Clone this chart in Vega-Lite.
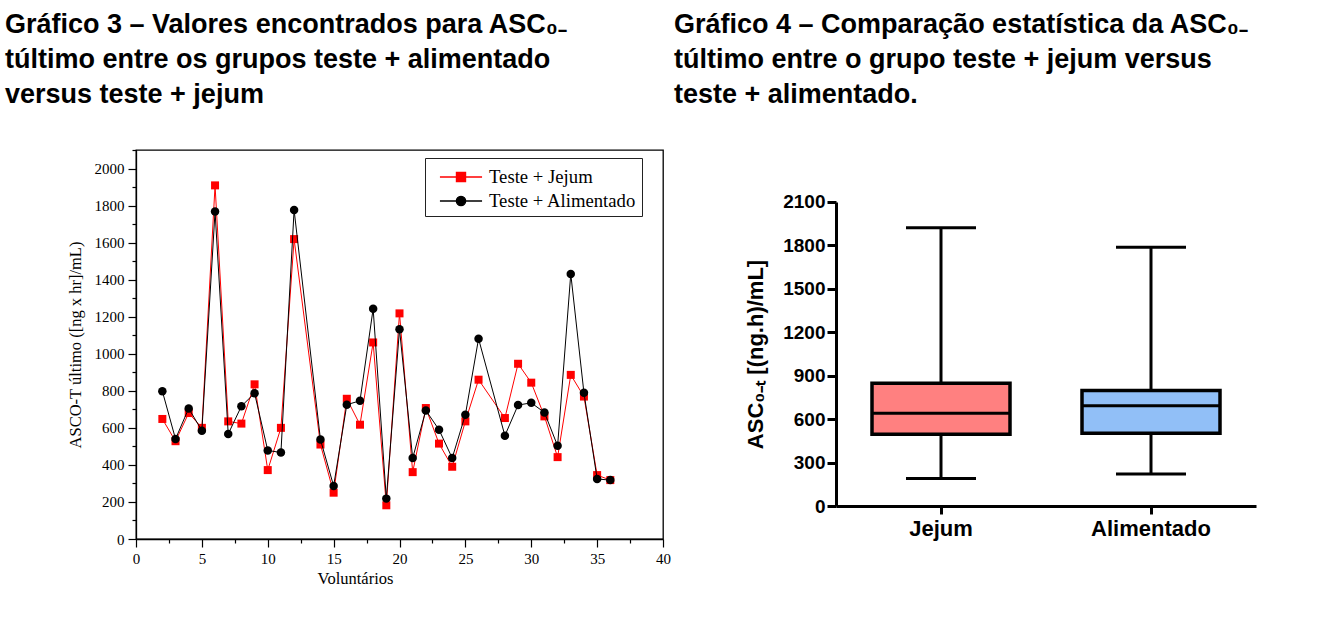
{
  "$schema": "https://vega.github.io/schema/vega-lite/v6.json",
  "background": "white",
  "padding": {"left": 4, "top": 10, "right": 5, "bottom": 5},
  "spacing": 2,
  "datasets": {
    "voluntarios": [
      {"voluntario": 2, "serie": "Teste + Jejum", "asc": 648},
      {"voluntario": 3, "serie": "Teste + Jejum", "asc": 528},
      {"voluntario": 4, "serie": "Teste + Jejum", "asc": 680},
      {"voluntario": 5, "serie": "Teste + Jejum", "asc": 600},
      {"voluntario": 6, "serie": "Teste + Jejum", "asc": 1909},
      {"voluntario": 7, "serie": "Teste + Jejum", "asc": 635},
      {"voluntario": 8, "serie": "Teste + Jejum", "asc": 623},
      {"voluntario": 9, "serie": "Teste + Jejum", "asc": 835},
      {"voluntario": 10, "serie": "Teste + Jejum", "asc": 372},
      {"voluntario": 11, "serie": "Teste + Jejum", "asc": 600},
      {"voluntario": 12, "serie": "Teste + Jejum", "asc": 1619},
      {"voluntario": 14, "serie": "Teste + Jejum", "asc": 510},
      {"voluntario": 15, "serie": "Teste + Jejum", "asc": 250},
      {"voluntario": 16, "serie": "Teste + Jejum", "asc": 757},
      {"voluntario": 17, "serie": "Teste + Jejum", "asc": 617},
      {"voluntario": 18, "serie": "Teste + Jejum", "asc": 1061},
      {"voluntario": 19, "serie": "Teste + Jejum", "asc": 182},
      {"voluntario": 20, "serie": "Teste + Jejum", "asc": 1218},
      {"voluntario": 21, "serie": "Teste + Jejum", "asc": 361},
      {"voluntario": 22, "serie": "Teste + Jejum", "asc": 707},
      {"voluntario": 23, "serie": "Teste + Jejum", "asc": 515},
      {"voluntario": 24, "serie": "Teste + Jejum", "asc": 390},
      {"voluntario": 25, "serie": "Teste + Jejum", "asc": 635},
      {"voluntario": 26, "serie": "Teste + Jejum", "asc": 860},
      {"voluntario": 28, "serie": "Teste + Jejum", "asc": 653},
      {"voluntario": 29, "serie": "Teste + Jejum", "asc": 946},
      {"voluntario": 30, "serie": "Teste + Jejum", "asc": 844},
      {"voluntario": 31, "serie": "Teste + Jejum", "asc": 662},
      {"voluntario": 32, "serie": "Teste + Jejum", "asc": 442},
      {"voluntario": 33, "serie": "Teste + Jejum", "asc": 886},
      {"voluntario": 34, "serie": "Teste + Jejum", "asc": 769},
      {"voluntario": 35, "serie": "Teste + Jejum", "asc": 345},
      {"voluntario": 36, "serie": "Teste + Jejum", "asc": 318},
      {"voluntario": 2, "serie": "Teste + Alimentado", "asc": 798},
      {"voluntario": 3, "serie": "Teste + Alimentado", "asc": 540},
      {"voluntario": 4, "serie": "Teste + Alimentado", "asc": 705},
      {"voluntario": 5, "serie": "Teste + Alimentado", "asc": 585},
      {"voluntario": 6, "serie": "Teste + Alimentado", "asc": 1768},
      {"voluntario": 7, "serie": "Teste + Alimentado", "asc": 567},
      {"voluntario": 8, "serie": "Teste + Alimentado", "asc": 717},
      {"voluntario": 9, "serie": "Teste + Alimentado", "asc": 787},
      {"voluntario": 10, "serie": "Teste + Alimentado", "asc": 478},
      {"voluntario": 11, "serie": "Teste + Alimentado", "asc": 467},
      {"voluntario": 12, "serie": "Teste + Alimentado", "asc": 1776},
      {"voluntario": 14, "serie": "Teste + Alimentado", "asc": 537},
      {"voluntario": 15, "serie": "Teste + Alimentado", "asc": 286},
      {"voluntario": 16, "serie": "Teste + Alimentado", "asc": 725},
      {"voluntario": 17, "serie": "Teste + Alimentado", "asc": 746},
      {"voluntario": 18, "serie": "Teste + Alimentado", "asc": 1243},
      {"voluntario": 19, "serie": "Teste + Alimentado", "asc": 218},
      {"voluntario": 20, "serie": "Teste + Alimentado", "asc": 1132},
      {"voluntario": 21, "serie": "Teste + Alimentado", "asc": 437},
      {"voluntario": 22, "serie": "Teste + Alimentado", "asc": 694},
      {"voluntario": 23, "serie": "Teste + Alimentado", "asc": 590},
      {"voluntario": 24, "serie": "Teste + Alimentado", "asc": 437},
      {"voluntario": 25, "serie": "Teste + Alimentado", "asc": 671},
      {"voluntario": 26, "serie": "Teste + Alimentado", "asc": 1081},
      {"voluntario": 28, "serie": "Teste + Alimentado", "asc": 558},
      {"voluntario": 29, "serie": "Teste + Alimentado", "asc": 723},
      {"voluntario": 30, "serie": "Teste + Alimentado", "asc": 735},
      {"voluntario": 31, "serie": "Teste + Alimentado", "asc": 683},
      {"voluntario": 32, "serie": "Teste + Alimentado", "asc": 503},
      {"voluntario": 33, "serie": "Teste + Alimentado", "asc": 1431},
      {"voluntario": 34, "serie": "Teste + Alimentado", "asc": 789},
      {"voluntario": 35, "serie": "Teste + Alimentado", "asc": 324},
      {"voluntario": 36, "serie": "Teste + Alimentado", "asc": 318}
    ],
    "resumo": [
      {"grupo": "Jejum", "minimo": 190, "q1": 495, "mediana": 640, "q3": 847, "maximo": 1921},
      {"grupo": "Alimentado", "minimo": 221, "q1": 502, "mediana": 692, "q3": 798, "maximo": 1785}
    ]
  },
  "hconcat": [
    {
      "width": 527,
      "height": 389,
      "title": {
        "text": ["Gráfico 3 – Valores encontrados para ASC₀₋", "túltimo entre os grupos teste + alimentado", "versus teste + jejum"],
        "anchor": "start", "frame": "group", "dx": -131, "offset": 34,
        "font": "Liberation Sans", "fontSize": 27, "fontWeight": "bold", "lineHeight": 35, "color": "black"
      },
      "view": {"stroke": "black", "strokeWidth": 1.3},
      "data": {"name": "voluntarios"},
      "encoding": {
        "x": {
          "field": "voluntario", "type": "quantitative",
          "scale": {"domain": [0, 40], "nice": false, "zero": false},
          "axis": {
            "values": [0, 2.5, 5, 7.5, 10, 12.5, 15, 17.5, 20, 22.5, 25, 27.5, 30, 32.5, 35, 37.5, 40],
            "labelExpr": "datum.value % 5 === 0 ? datum.label : ''",
            "tickSize": {"condition": {"test": "datum.value % 5 !== 0", "value": 4}, "value": 8},
            "grid": false, "labelOverlap": false, "labelFlush": false,
            "title": "Voluntários", "titleFont": "Liberation Serif", "titleFontSize": 16.5, "titleFontWeight": "normal", "titleColor": "black", "titlePadding": 4, "titleX": 219,
            "labelFont": "Liberation Serif", "labelFontSize": 15, "labelColor": "black", "labelPadding": 4,
            "domainColor": "black", "domainWidth": 1.3, "tickColor": "black", "tickWidth": 1.2
          }
        },
        "y": {
          "field": "asc", "type": "quantitative",
          "scale": {"domain": [0, 2100], "nice": false},
          "axis": {
            "values": [0, 100, 200, 300, 400, 500, 600, 700, 800, 900, 1000, 1100, 1200, 1300, 1400, 1500, 1600, 1700, 1800, 1900, 2000, 2100],
            "format": "d",
            "labelExpr": "datum.value % 200 === 0 ? datum.label : ''",
            "tickSize": {"condition": {"test": "datum.value % 200 !== 0", "value": 4}, "value": 8},
            "grid": false, "labelOverlap": false, "labelFlush": false,
            "title": "ASCO-T último ([ng x hr]/mL)", "titleFont": "Liberation Serif", "titleFontSize": 16.5, "titleFontWeight": "normal", "titleColor": "black", "titlePadding": 11,
            "labelFont": "Liberation Serif", "labelFontSize": 15, "labelColor": "black", "labelPadding": 4,
            "domainColor": "black", "domainWidth": 1.3, "tickColor": "black", "tickWidth": 1.2
          }
        },
        "color": {
          "field": "serie", "type": "nominal",
          "scale": {"domain": ["Teste + Jejum", "Teste + Alimentado"], "range": ["#FF0000", "#000000"]},
          "legend": {
            "title": null, "orient": "none", "legendX": 289, "legendY": 8, "direction": "vertical",
            "strokeColor": "#222222", "fillColor": "white", "padding": 5,
            "symbolSize": 676, "symbolOffset": 17, "labelOffset": 14, "rowPadding": 0,
            "labelFont": "Liberation Serif", "labelFontSize": 18.7, "labelColor": "black", "symbolStrokeWidth": 1.3,
            "encode": {
              "symbols": {
                "update": {
                  "shape": {"signal": "datum.value === 'Teste + Jejum' ? 'M-1.62,0H1.62M-0.35,-0.35H0.35V0.35H-0.35Z' : 'M-1.62,0H1.62M0.36,0A0.36,0.36 0 1,1 -0.36,0A0.36,0.36 0 1,1 0.36,0Z'"},
                  "fill": {"signal": "datum.value === 'Teste + Jejum' ? '#FF0000' : '#000000'"},
                  "stroke": {"signal": "datum.value === 'Teste + Jejum' ? '#FF0000' : '#000000'"},
                  "strokeWidth": {"value": 1.3},
                  "opacity": {"value": 1}
                }
              }
            }
          }
        }
      },
      "layer": [
        {"transform": [{"filter": "datum.serie === 'Teste + Jejum'"}], "mark": {"type": "line", "strokeWidth": 1}},
        {"transform": [{"filter": "datum.serie === 'Teste + Jejum'"}], "mark": {"type": "point", "shape": "square", "filled": true, "size": 64, "opacity": 1}},
        {"transform": [{"filter": "datum.serie === 'Teste + Alimentado'"}], "mark": {"type": "line", "strokeWidth": 1}},
        {"transform": [{"filter": "datum.serie === 'Teste + Alimentado'"}], "mark": {"type": "point", "shape": "circle", "filled": true, "size": 72, "opacity": 1}}
      ]
    },
    {
      "width": 420,
      "height": 356,
      "title": {
        "text": ["Gráfico 4 – Comparação estatística da ASC₀₋", "túltimo entre o grupo teste + jejum versus", "teste + alimentado."],
        "anchor": "start", "frame": "group", "dx": -162, "offset": 41,
        "font": "Liberation Sans", "fontSize": 27, "fontWeight": "bold", "lineHeight": 35, "color": "black"
      },
      "view": {"stroke": null},
      "data": {"name": "resumo"},
      "encoding": {
        "x": {
          "field": "grupo", "type": "nominal", "sort": ["Jejum", "Alimentado"],
          "scale": {"paddingInner": 0, "paddingOuter": 0},
          "axis": {
            "title": null, "labelAngle": 0,
            "labelFont": "Liberation Sans", "labelFontWeight": "bold", "labelFontSize": 22, "labelColor": "black", "labelPadding": 4,
            "domainColor": "black", "domainWidth": 3, "tickColor": "black", "tickWidth": 3, "tickSize": 8
          }
        }
      },
      "layer": [
        {
          "mark": {"type": "rule", "color": "black", "strokeWidth": 3},
          "encoding": {
            "y": {
              "field": "minimo", "type": "quantitative",
              "scale": {"domain": [0, 2457], "nice": false},
              "axis": {
                "values": [0, 300, 600, 900, 1200, 1500, 1800, 2100], "format": "d", "grid": false,
                "domainDash": [304, 100], "domainColor": "black", "domainWidth": 3,
                "tickColor": "black", "tickWidth": 3, "tickSize": 9,
                "labelFont": "Liberation Sans", "labelFontWeight": "bold", "labelFontSize": 19, "labelColor": "black", "labelPadding": 2,
                "title": "ASC₀₋ₜ [(ng.h)/mL]", "titleFont": "Liberation Sans", "titleFontWeight": "bold", "titleFontSize": 22, "titleColor": "black", "titlePadding": 15, "titleY": 204
              }
            },
            "y2": {"field": "maximo"}
          }
        },
        {
          "mark": {"type": "bar", "size": 138, "stroke": "black", "strokeWidth": 3.5},
          "encoding": {
            "y": {"field": "q1", "type": "quantitative"},
            "y2": {"field": "q3"},
            "fill": {"field": "grupo", "type": "nominal", "scale": {"domain": ["Jejum", "Alimentado"], "range": ["#FF8080", "#91BFF7"]}, "legend": null}
          }
        },
        {"mark": {"type": "tick", "color": "black", "size": 138, "thickness": 3, "opacity": 1}, "encoding": {"y": {"field": "mediana", "type": "quantitative"}}},
        {"mark": {"type": "tick", "color": "black", "size": 70, "thickness": 3, "opacity": 1}, "encoding": {"y": {"field": "minimo", "type": "quantitative"}}},
        {"mark": {"type": "tick", "color": "black", "size": 70, "thickness": 3, "opacity": 1}, "encoding": {"y": {"field": "maximo", "type": "quantitative"}}}
      ]
    }
  ]
}
